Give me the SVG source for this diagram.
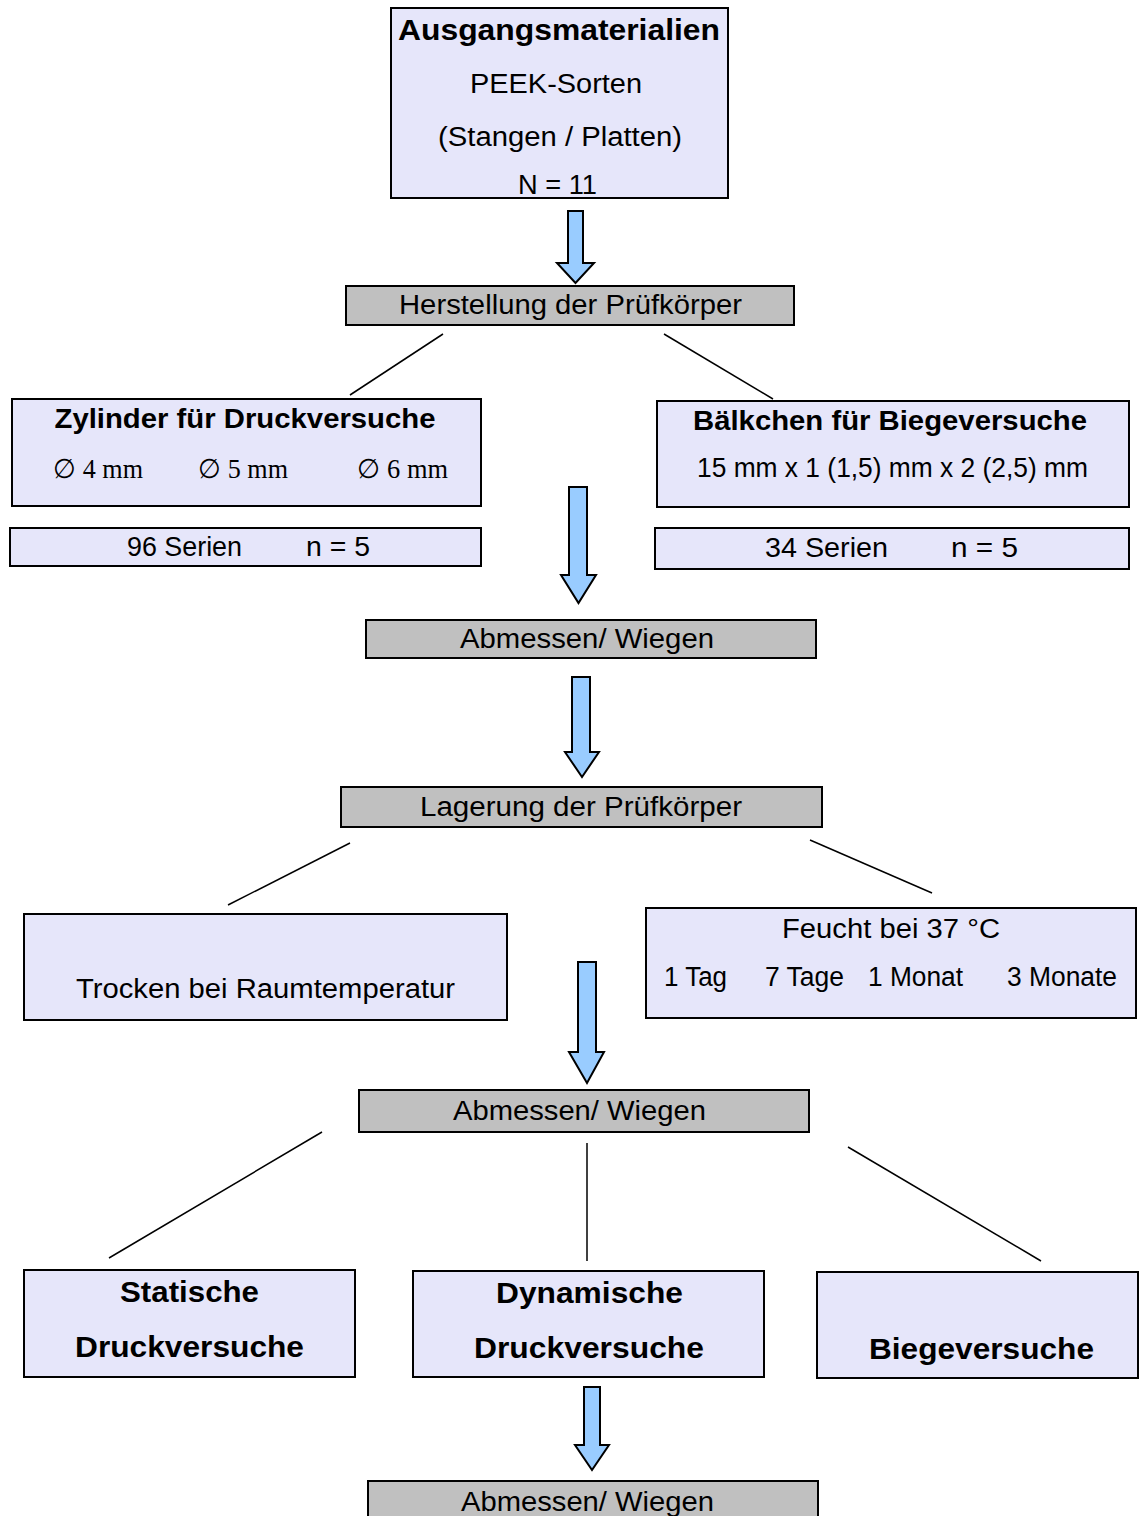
<svg xmlns="http://www.w3.org/2000/svg" width="1139" height="1516" viewBox="0 0 1139 1516">
<style>
.box{fill:#E6E6FA;stroke:#000;stroke-width:2}
.grey{fill:#C0C0C0;stroke:#000;stroke-width:2}
.arrow{fill:#99CCFF;stroke:#000;stroke-width:2;stroke-linejoin:miter}
.conn{stroke:#000;stroke-width:1.5;fill:none}
text{font-family:"Liberation Sans",Arial,sans-serif;font-size:27px;fill:#000;text-anchor:middle}
.b{font-weight:bold;font-size:28px}
.bb{font-weight:bold;font-size:30px}
.s{font-family:"Liberation Serif","DejaVu Serif",serif;font-size:27px}
</style>
<rect width="1139" height="1516" fill="#fff"/>
<g id="connectors">
<path class="arrow" d="M568,211 H583 V263 H594 L575.5,283 L557,263 H568 Z"/>
<path class="arrow" d="M569,487 H587 V575 H596 L578.5,603 L561,575 H569 Z"/>
<path class="arrow" d="M572,677 H590 V752 H599 L582,777 L565,752 H572 Z"/>
<path class="arrow" d="M578,962 H596 V1052 H604 L587,1083 L569,1052 H578 Z"/>
<path class="arrow" d="M584,1387 H600 V1445 H609 L592,1470 L575,1445 H584 Z"/>
<line class="conn" x1="443" y1="334" x2="350" y2="395"/>
<line class="conn" x1="664" y1="334" x2="773" y2="399"/>
<line class="conn" x1="350" y1="843" x2="228" y2="905"/>
<line class="conn" x1="810" y1="840" x2="932" y2="893"/>
<line class="conn" x1="322" y1="1132" x2="109" y2="1258"/>
<line class="conn" x1="587" y1="1143" x2="587" y2="1261"/>
<line class="conn" x1="848" y1="1147" x2="1041" y2="1261"/>
</g>
<g id="ausgangsmaterialien">
<rect class="box" x="391" y="8" width="337" height="190"/>
<text class="bb" x="559" y="40" textLength="322" lengthAdjust="spacingAndGlyphs">Ausgangsmaterialien</text>
<text x="556" y="93" textLength="172" lengthAdjust="spacingAndGlyphs">PEEK-Sorten</text>
<text x="560" y="146" textLength="244" lengthAdjust="spacingAndGlyphs">(Stangen / Platten)</text>
<text x="557.5" y="194" textLength="79" lengthAdjust="spacingAndGlyphs">N = 11</text>
</g>
<g id="herstellung">
<rect class="grey" x="346" y="286" width="448" height="39"/>
<text x="570.5" y="314" textLength="343" lengthAdjust="spacingAndGlyphs">Herstellung der Prüfkörper</text>
</g>
<g id="zylinder">
<rect class="box" x="12" y="399" width="469" height="107"/>
<text class="b" x="245" y="428" textLength="381" lengthAdjust="spacingAndGlyphs">Zylinder für Druckversuche</text>
<text class="s" x="98" y="478" textLength="90" lengthAdjust="spacingAndGlyphs">∅ 4 mm</text>
<text class="s" x="243" y="478" textLength="90" lengthAdjust="spacingAndGlyphs">∅ 5 mm</text>
<text class="s" x="402.5" y="478" textLength="91" lengthAdjust="spacingAndGlyphs">∅ 6 mm</text>
</g>
<g id="serien96">
<rect class="box" x="10" y="528" width="471" height="38"/>
<text x="184.5" y="556" textLength="115" lengthAdjust="spacingAndGlyphs">96 Serien</text>
<text x="338" y="556" textLength="64" lengthAdjust="spacingAndGlyphs">n = 5</text>
</g>
<g id="baelkchen">
<rect class="box" x="657" y="401" width="472" height="106"/>
<text class="b" x="890" y="430" textLength="394" lengthAdjust="spacingAndGlyphs">Bälkchen für Biegeversuche</text>
<text x="892.5" y="477" textLength="391" lengthAdjust="spacingAndGlyphs">15 mm x 1 (1,5) mm x 2 (2,5) mm</text>
</g>
<g id="serien34">
<rect class="box" x="655" y="528" width="474" height="41"/>
<text x="826.5" y="557" textLength="123" lengthAdjust="spacingAndGlyphs">34 Serien</text>
<text x="984.5" y="557" textLength="67" lengthAdjust="spacingAndGlyphs">n = 5</text>
</g>
<g id="abmessen1">
<rect class="grey" x="366" y="620" width="450" height="38"/>
<text x="587" y="648" textLength="254" lengthAdjust="spacingAndGlyphs">Abmessen/ Wiegen</text>
</g>
<g id="lagerung">
<rect class="grey" x="341" y="787" width="481" height="40"/>
<text x="581" y="816" textLength="322" lengthAdjust="spacingAndGlyphs">Lagerung der Prüfkörper</text>
</g>
<g id="trocken">
<rect class="box" x="24" y="914" width="483" height="106"/>
<text x="265.5" y="998" textLength="379" lengthAdjust="spacingAndGlyphs">Trocken bei Raumtemperatur</text>
</g>
<g id="feucht">
<rect class="box" x="646" y="908" width="490" height="110"/>
<text x="891" y="938" textLength="218" lengthAdjust="spacingAndGlyphs">Feucht bei 37 °C</text>
<text x="695.5" y="986" textLength="63" lengthAdjust="spacingAndGlyphs">1 Tag</text>
<text x="804.5" y="986" textLength="79" lengthAdjust="spacingAndGlyphs">7 Tage</text>
<text x="915.5" y="986" textLength="95" lengthAdjust="spacingAndGlyphs">1 Monat</text>
<text x="1062" y="986" textLength="110" lengthAdjust="spacingAndGlyphs">3 Monate</text>
</g>
<g id="abmessen2">
<rect class="grey" x="359" y="1090" width="450" height="42"/>
<text x="579.5" y="1120" textLength="253" lengthAdjust="spacingAndGlyphs">Abmessen/ Wiegen</text>
</g>
<g id="statische">
<rect class="box" x="24" y="1270" width="331" height="107"/>
<text class="bb" x="189.5" y="1302" textLength="139" lengthAdjust="spacingAndGlyphs">Statische</text>
<text class="bb" x="189.5" y="1357" textLength="229" lengthAdjust="spacingAndGlyphs">Druckversuche</text>
</g>
<g id="dynamische">
<rect class="box" x="413" y="1271" width="351" height="106"/>
<text class="bb" x="589.5" y="1303" textLength="187" lengthAdjust="spacingAndGlyphs">Dynamische</text>
<text class="bb" x="589" y="1358" textLength="230" lengthAdjust="spacingAndGlyphs">Druckversuche</text>
</g>
<g id="biege">
<rect class="box" x="817" y="1272" width="321" height="106"/>
<text class="bb" x="981.5" y="1359" textLength="225" lengthAdjust="spacingAndGlyphs">Biegeversuche</text>
</g>
<g id="abmessen3">
<rect class="grey" x="368" y="1481" width="450" height="40"/>
<text x="587.5" y="1511" textLength="253" lengthAdjust="spacingAndGlyphs">Abmessen/ Wiegen</text>
</g>
</svg>
